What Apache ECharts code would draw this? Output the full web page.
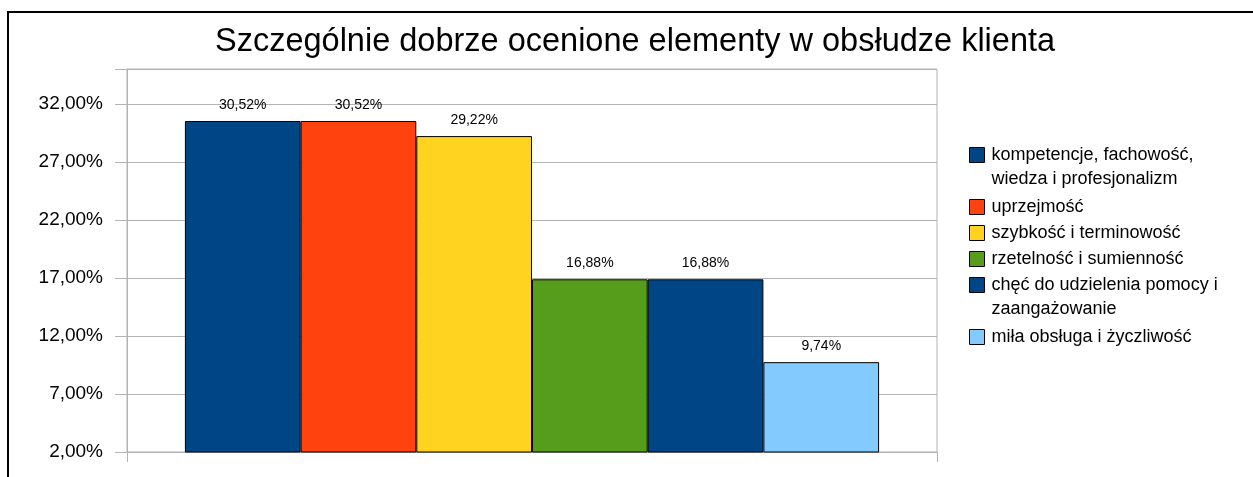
<!DOCTYPE html>
<html>
<head>
<meta charset="utf-8">
<script src="https://cdn.jsdelivr.net/npm/echarts@6/dist/echarts.min.js"></script>
<style>
html,body{margin:0;padding:0;background:#fff;}
#chart{width:1253px;height:477px;}
</style>
</head>
<body>
<div id="chart"></div>
<script>
// ---- data ----
var titleText = 'Szczególnie dobrze ocenione elementy w obsłudze klienta';
var categories = [''];
var seriesNames = [
  'kompetencje, fachowość,\nwiedza i profesjonalizm',
  'uprzejmość',
  'szybkość i terminowość',
  'rzetelność i sumienność',
  'chęć do udzielenia pomocy i\nzaangażowanie',
  'miła obsługa i życzliwość'
];
var seriesValues = [30.52, 30.52, 29.22, 16.88, 16.88, 9.74];
var yTicks = [2, 7, 12, 17, 22, 27, 32];
var colors = ['#004586', '#ff420e', '#ffd320', '#579d1c', '#004586', '#83caff'];

// ---- layout ----
var FONT = '"Liberation Sans", Arial, sans-serif';
var legendCenters = [155, 207, 233, 259, 285, 337];

function pct(v) { return v.toFixed(2).replace('.', ',') + '%'; }

var series = seriesNames.map(function (name, i) {
  return {
    name: name,
    type: 'bar',
    data: [seriesValues[i]],
    barGap: '0%',
    barCategoryGap: '14.3%',
    itemStyle: { color: colors[i], borderColor: '#000', borderWidth: 1 },
    label: {
      show: true, position: 'top', distance: 9,
      formatter: function (p) { return pct(p.value); },
      color: '#000', fontFamily: FONT, fontSize: 14
    },
    emphasis: { disabled: true },
    animation: false
  };
});

var LH = 24;
var legends = seriesNames.map(function (name, i) {
  var twoLine = name.indexOf('\n') >= 0;
  return {
    data: [name],
    orient: 'vertical',
    left: 969,
    top: legendCenters[i] - (twoLine ? 1.5 * LH : LH / 2),
    padding: 0,
    itemWidth: 15,
    itemHeight: 15,
    icon: 'rect',
    selectedMode: false,
    // for two-line names an empty leading line keeps the first line level with the swatch
    formatter: function (n) { return n.indexOf('\n') >= 0 ? '\n' + n : n; },
    itemStyle: { borderColor: '#000', borderWidth: 1 },
    textStyle: {
      color: '#000', fontFamily: FONT, fontSize: 18, lineHeight: LH,
      padding: [0, 0, 0, 2]
    }
  };
});

var chart = echarts.init(document.getElementById('chart'), null, { renderer: 'canvas' });
chart.setOption({
  backgroundColor: '#fff',
  animation: false,
  color: colors,
  title: {
    text: titleText,
    left: 215,
    top: 26,
    padding: 0,
    textStyle: { color: '#000', fontFamily: FONT, fontSize: 32.5, fontWeight: 'normal' }
  },
  legend: legends,
  grid: {
    left: 127, right: 316, top: 69, bottom: 25,
    show: true, borderColor: '#b3b3b3', borderWidth: 1, containLabel: false
  },
  xAxis: {
    type: 'category',
    data: categories,
    axisLine: { show: true, lineStyle: { color: '#b3b3b3', width: 1 } },
    axisTick: { show: true, length: 10, lineStyle: { color: '#b3b3b3' } },
    axisLabel: { show: false }
  },
  yAxis: {
    type: 'value',
    min: 2, max: 35, interval: 5,
    axisLine: { show: true, lineStyle: { color: '#b3b3b3', width: 1 } },
    axisTick: { show: true, length: 12, lineStyle: { color: '#b3b3b3' } },
    splitLine: { show: true, lineStyle: { color: '#b3b3b3', width: 1 } },
    axisLabel: {
      margin: 24,
      color: '#000', fontFamily: FONT, fontSize: 19,
      formatter: function (v) { return yTicks.indexOf(v) >= 0 ? pct(v) : ''; }
    }
  },
  graphic: [{
    type: 'rect',
    shape: { x: 8, y: 12, width: 1300, height: 520 },
    style: { fill: 'none', stroke: '#000', lineWidth: 2 },
    silent: true
  }],
  series: series
});
</script>
</body>
</html>
